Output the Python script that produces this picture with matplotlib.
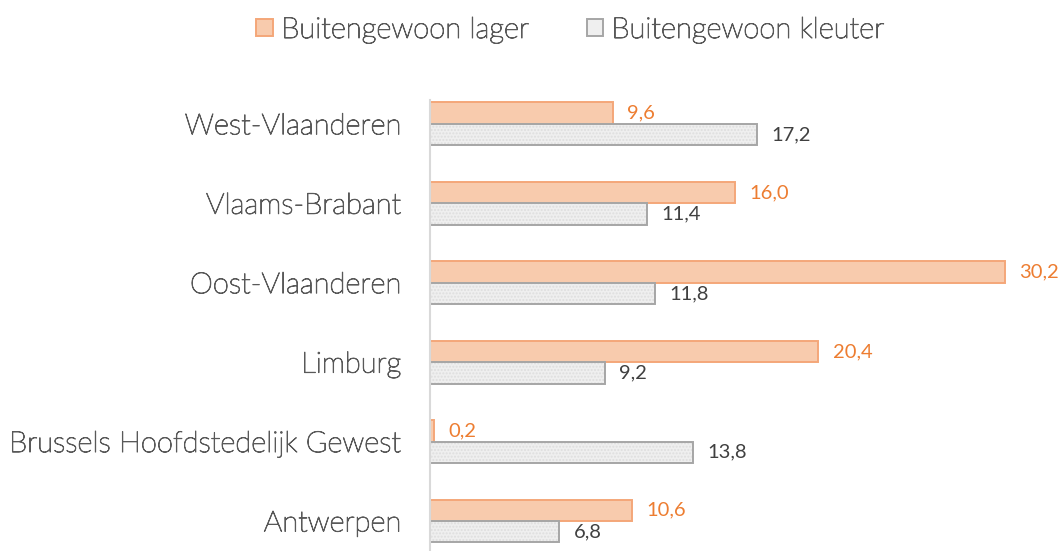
import numpy as np
import matplotlib.pyplot as plt
import matplotlib.patheffects as pe
from matplotlib.patches import Patch

categories = ['Antwerpen', 'Brussels Hoofdstedelijk Gewest', 'Limburg',
              'Oost-Vlaanderen', 'Vlaams-Brabant', 'West-Vlaanderen']
lager = [10.6, 0.2, 20.4, 30.2, 16.0, 9.6]
kleuter = [6.8, 13.8, 9.2, 11.8, 11.4, 17.2]

ORANGE_FACE = '#f8cbad'
ORANGE_EDGE = '#f4a779'
ORANGE_TEXT = '#ed7d31'
GRAY_FACE = '#efefef'
GRAY_EDGE = '#a6a6a6'
LABEL_COLOR = '#595959'
FONT = ['Lato', 'DejaVu Sans']
thicken = [pe.withStroke(linewidth=0.7, foreground=LABEL_COLOR)]

fig = plt.figure(figsize=(10.64, 5.51), dpi=100)
ax = fig.add_axes([430 / 1064, 0, 1 - 430 / 1064, 1 - 100 / 551])

y = np.arange(len(categories))
h = 0.27
b1 = ax.barh(y + h / 2, lager, height=h, color=ORANGE_FACE, edgecolor=ORANGE_EDGE, lw=1.4)
b2 = ax.barh(y - h / 2, kleuter, height=h, color=GRAY_FACE, edgecolor=GRAY_EDGE, lw=1.4,
             hatch='.....')
for bar in b2:
    bar._hatch_color = (0.87, 0.87, 0.87, 1)

for yi, v in zip(y, lager):
    ax.text(v + 0.75, yi + h / 2, f'{v:.1f}'.replace('.', ','), va='center', ha='left',
            color=ORANGE_TEXT, fontsize=14.5, family=FONT)
for yi, v in zip(y, kleuter):
    ax.text(v + 0.75, yi - h / 2, f'{v:.1f}'.replace('.', ','), va='center', ha='left',
            color='#404040', fontsize=14.5, family=FONT)

ax.set_xlim(0, 33.3)
ax.set_ylim(-0.378, 5.30)
ax.set_yticks(y)
ax.set_yticklabels(categories, family=FONT, fontsize=21, color=LABEL_COLOR, fontweight='light')
for t in ax.get_yticklabels():
    t.set_path_effects(thicken)
ax.tick_params(axis='y', length=0, pad=21)
ax.set_xticks([])
for s in ['top', 'right', 'bottom']:
    ax.spines[s].set_visible(False)
ax.spines['left'].set_color('#d9d9d9')
ax.spines['left'].set_linewidth(1.5)

handles = [Patch(facecolor=ORANGE_FACE, edgecolor=ORANGE_EDGE, lw=1.4, label='Buitengewoon lager'),
           Patch(facecolor=GRAY_FACE, edgecolor=GRAY_EDGE, lw=1.4, label='Buitengewoon kleuter')]
leg = fig.legend(handles=handles, loc='center', bbox_to_anchor=(570 / 1064, 1 - 30 / 551), ncol=2,
                 frameon=False, handlelength=0.55, handleheight=0.55, handletextpad=0.3,
                 columnspacing=2.0, prop={'family': FONT, 'size': 21, 'weight': 'light'},
                 labelcolor=LABEL_COLOR)
for t in leg.get_texts():
    t.set_path_effects(thicken)

fig.savefig('out.png', dpi=100)
